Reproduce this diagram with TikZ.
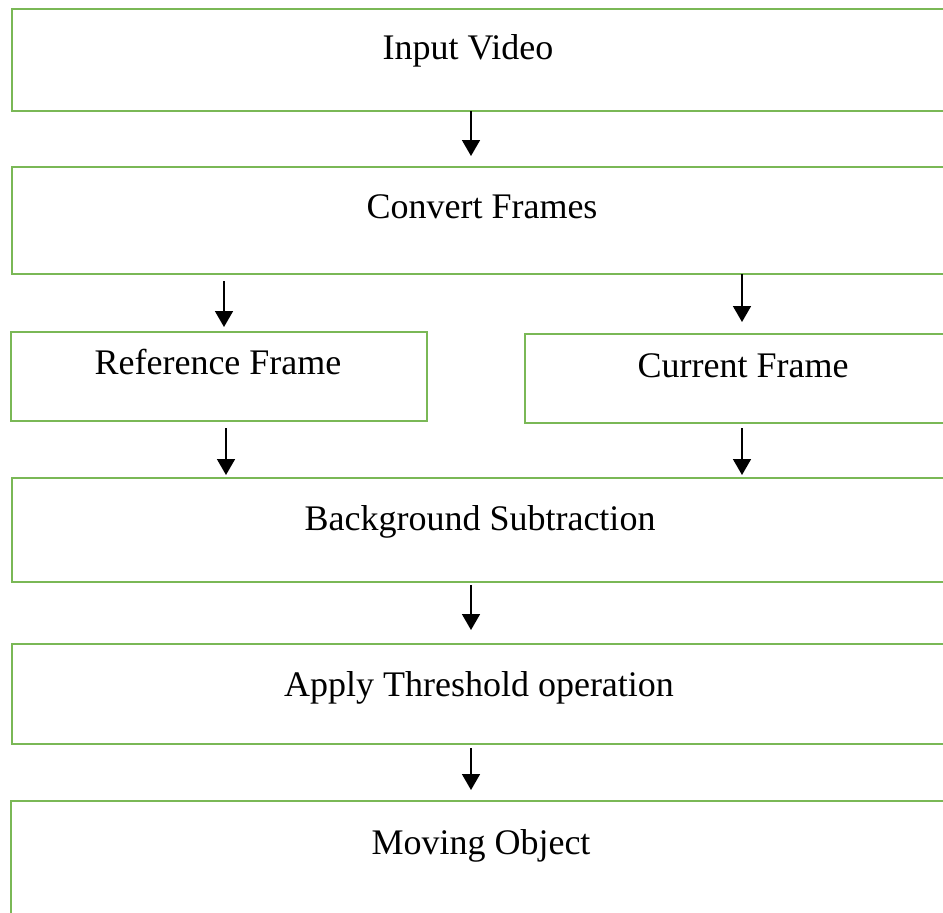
\documentclass[tikz,border=0pt]{standalone}
\usepackage{fontspec}
\setmainfont{Liberation Serif}
\usetikzlibrary{arrows.meta}
\definecolor{boxgreen}{RGB}{122,184,86}
\tikzset{
  box/.style={draw=boxgreen, line width=2.1pt, rectangle, anchor=north west, outer sep=0pt, inner sep=0pt},
  lbl/.style={anchor=base, inner sep=0pt, font=\fontsize{36}{40}\selectfont},
  arr/.style={draw=black, line width=1.7pt, -{Triangle[width=18pt,length=16pt]}}
}
\begin{document}
\begin{tikzpicture}[x=1pt,y=-1pt]
\clip (0,0) rectangle (943,913);
\fill[white] (0,0) rectangle (943,913);
% boxes
\node[box, minimum width=948pt, minimum height=102pt] (b1) at (12,9) {};
\node[box, minimum width=948pt, minimum height=107pt] (b2) at (12,167) {};
\node[box, minimum width=416pt, minimum height=89pt]  (ref) at (11,332) {};
\node[box, minimum width=435pt, minimum height=89pt]  (cur) at (525,334) {};
\node[box, minimum width=948pt, minimum height=104pt] (bs) at (12,478) {};
\node[box, minimum width=948pt, minimum height=100pt] (th) at (12,644) {};
\node[box, minimum width=949pt, minimum height=140pt] (mo) at (11,801) {};
% labels
\node[lbl] (t1) at (468,59) {Input Video};
\node[lbl] (t2) at (482,218) {Convert Frames};
\node[lbl] (tref) at (218,374) {Reference Frame};
\node[lbl] (tcur) at (743,377) {Current Frame};
\node[lbl] (tbs) at (480,530) {Background Subtraction};
\node[lbl] (tth) at (479,696) {Apply Threshold operation};
\node[lbl] (tmo) at (481,854) {Moving Object};
% arrow x positions
\coordinate (xc) at (471,0);
\coordinate (xl1) at (224,0);
\coordinate (xl2) at (226,0);
\coordinate (xr) at (742,0);
% connectors
\draw[arr, shorten >=11pt] (b1.south -| xc) -- (b2.north -| xc);
\draw[arr, shorten <=7pt, shorten >=5pt] (b2.south -| xl1) -- (ref.north -| xl1);
\draw[arr, shorten >=12pt] (b2.south -| xr) -- (cur.north -| xr);
\draw[arr, shorten <=7pt, shorten >=3pt] (ref.south -| xl2) -- (bs.north -| xl2);
\draw[arr, shorten <=5pt, shorten >=3pt] (cur.south -| xr) -- (bs.north -| xr);
\draw[arr, shorten <=3pt, shorten >=14pt] (bs.south -| xc) -- (th.north -| xc);
\draw[arr, shorten <=4pt, shorten >=11pt] (th.south -| xc) -- (mo.north -| xc);
\end{tikzpicture}
\end{document}
